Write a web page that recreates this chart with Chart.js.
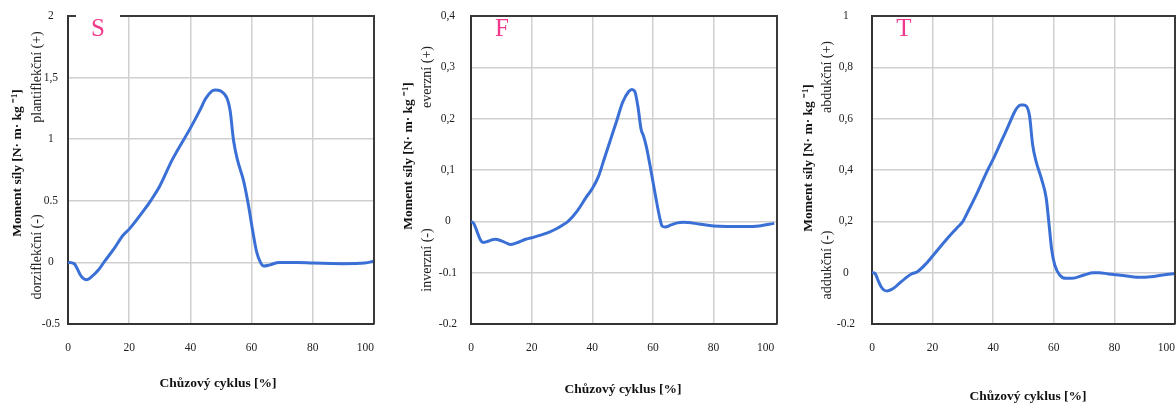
<!DOCTYPE html>
<html>
<head>
<meta charset="utf-8">
<script src="https://cdn.jsdelivr.net/npm/chart.js@4.4.1/dist/chart.umd.min.js"></script>
<style>
html,body{margin:0;padding:0;background:#fff;overflow:hidden;width:1176px;height:405px;position:relative}
canvas{position:absolute;top:0}
</style>
</head>
<body>
<canvas id="cS" width="390" height="405" style="left:0px"></canvas>
<canvas id="cF" width="400" height="405" style="left:390px"></canvas>
<canvas id="cT" width="400" height="405" style="left:780px"></canvas>
<script>
// ---- Data ----
const xTickValues = [0, 20, 40, 60, 80, 100];
const xTickLabels = ['0', '20', '40', '60', '80', '100'];

const cycleS = [0, 2, 3, 4, 5, 6, 8, 10, 12, 15, 18, 20, 25, 27, 30, 34, 40, 43, 45, 47, 48, 50, 52, 53, 54.1, 55.4, 57.4, 59, 60.4, 61.6, 62.9, 64, 66, 69, 75, 80, 90, 97, 100];
const momentS = [0, -0.01, -0.05, -0.1, -0.13, -0.14, -0.11, -0.06, 0.01, 0.11, 0.22, 0.27, 0.43, 0.5, 0.62, 0.83, 1.09, 1.23, 1.33, 1.39, 1.40, 1.39, 1.33, 1.23, 0.99, 0.83, 0.66, 0.46, 0.25, 0.09, 0.0, -0.03, -0.02, 0.0, 0.0, -0.005, -0.01, -0.005, 0.01];
const yTickValuesS = [-0.5, 0, 0.5, 1, 1.5, 2];
const yTickLabelsS = ['-0.5', '0', '0.5', '1', '1,5', '2'];

const cycleF = [0, 1, 2, 3, 4, 5, 7, 8, 10, 12, 13, 15, 18, 20, 25, 28, 30, 32, 35, 38, 40, 42, 44, 46, 48, 50, 52, 53, 54, 55, 56.1, 56.9, 57.8, 58.9, 60, 61.1, 62.2, 63, 64, 66, 68, 70, 75, 80, 90, 95, 100];
const momentF = [0, -0.005, -0.02, -0.035, -0.041, -0.04, -0.036, -0.035, -0.038, -0.043, -0.045, -0.042, -0.035, -0.032, -0.023, -0.015, -0.008, 0, 0.02, 0.047, 0.064, 0.087, 0.123, 0.159, 0.195, 0.232, 0.253, 0.257, 0.253, 0.225, 0.179, 0.166, 0.146, 0.113, 0.077, 0.041, 0.008, -0.009, -0.011, -0.007, -0.003, -0.002, -0.005, -0.009, -0.01, -0.009, -0.004];
const yTickValuesF = [-0.2, -0.1, 0, 0.1, 0.2, 0.3, 0.4];
const yTickLabelsF = ['-0.2', '-0.1', '0', '0,1', '0,2', '0,3', '0,4'];

const cycleT = [0, 1, 2, 3, 4, 5, 7, 9, 11, 13, 15, 18, 20, 25, 28, 30, 32, 35, 38, 40, 43, 45, 47, 48, 49, 50, 51, 52, 53, 54, 56, 57.5, 58.5, 59.3, 60.3, 62, 64, 66, 70, 73, 75, 78, 82, 88, 92, 96, 100];
const momentT = [0, -0.003, -0.03, -0.055, -0.068, -0.071, -0.062, -0.042, -0.022, -0.005, 0.004, 0.037, 0.065, 0.135, 0.174, 0.2, 0.246, 0.318, 0.396, 0.442, 0.52, 0.572, 0.625, 0.644, 0.653, 0.653, 0.648, 0.61, 0.5, 0.44, 0.363, 0.29, 0.18, 0.09, 0.03, -0.01, -0.022, -0.022, -0.009, 0, 0, -0.005, -0.01, -0.018, -0.016, -0.009, -0.003];
const yTickValuesT = [-0.2, 0, 0.2, 0.4, 0.6, 0.8, 1];
const yTickLabelsT = ['-0.2', '0', '0,2', '0,4', '0,6', '0,8', '1'];

const yTitle = 'Moment síly [N· m· kg ⁻¹]';
const xTitle = 'Chůzový cyklus [%]';
const subLabelsS = ['plantiflekční (+)', 'dorziflekční (-)'];
const subLabelsF = ['everzní (+)', 'inverzní (-)'];
const subLabelsT = ['abdukční (+)', 'addukční (-)'];

// ---- Styles ----
const SERIF = "'Liberation Serif', 'Times New Roman', serif";
const LINE = '#3a70d6';
const GRID = '#d0d0d0';
const AXIS = '#333333';
const PINK = '#f0388c';
const LAST_PAD = '\u00a0\u00a0\u00a0\u00a0\u00a0\u00a0';

function textPlugin(g) {
  return {
    id: 'panelTexts',
    afterDraw(chart) {
      const ctx = chart.ctx, a = chart.chartArea;
      ctx.save();
      ctx.strokeStyle = '#3a3a3a';
      ctx.lineWidth = 2;
      ctx.beginPath();
      ctx.moveTo(a.left, a.top);
      ctx.lineTo(a.right, a.top);
      ctx.lineTo(a.right, a.bottom);
      ctx.stroke();
      if (g.gap) {
        ctx.fillStyle = '#fff';
        ctx.fillRect(g.gap[0], a.top - 3, g.gap[1] - g.gap[0], 6);
      }
      ctx.fillStyle = PINK;
      ctx.font = '25px ' + SERIF;
      ctx.textAlign = 'center';
      ctx.textBaseline = 'middle';
      ctx.fillText(g.letter, g.letterX, 29);

      ctx.fillStyle = '#111';
      ctx.font = 'bold 13.5px ' + SERIF;
      ctx.fillText(xTitle, g.xTitle[0], g.xTitle[1]);

      ctx.save();
      ctx.translate(g.boldX, g.boldY);
      ctx.rotate(-Math.PI / 2);
      ctx.font = 'bold 13.5px ' + SERIF;
      ctx.fillText(yTitle, 0, 0);
      ctx.restore();

      ctx.font = '14px ' + SERIF;
      ctx.fillStyle = '#222';
      [[g.subs[0], g.subTop], [g.subs[1], g.subBottom]].forEach(([t, y]) => {
        ctx.save();
        ctx.translate(g.subX, y);
        ctx.rotate(-Math.PI / 2);
        ctx.fillText(t, 0, 0);
        ctx.restore();
      });
      ctx.restore();
    }
  };
}

function panel(id, xs, ys, yVals, yLabs, xMax, g) {
  return new Chart(document.getElementById(id), {
    type: 'line',
    data: {
      datasets: [{
        data: xs.map((x, i) => ({ x: x, y: ys[i] })),
        borderColor: LINE,
        borderWidth: 3,
        pointRadius: 0,
        fill: false,
        tension: 0.4,
        cubicInterpolationMode: 'monotone'
      }]
    },
    options: {
      responsive: false,
      animation: false,
      events: [],
      layout: { padding: { top: 16, right: g.padR, left: 0, bottom: 0 } },
      plugins: { legend: { display: false }, tooltip: { enabled: false } },
      scales: {
        x: {
          type: 'linear',
          min: 0,
          max: xMax,
          afterBuildTicks: s => { s.ticks = xTickValues.map(v => ({ value: v })); },
          afterFit: s => { s.height = 81; s.paddingLeft = 0; s.paddingRight = 0; },
          ticks: {
            padding: 17,
            color: '#222',
            font: { family: SERIF, size: 11.5 },
            maxRotation: 0,
            callback: (v, i) => xTickLabels[i] + (i === xTickLabels.length - 1 ? LAST_PAD : '')
          },
          grid: {
            drawTicks: false,
            lineWidth: 1.5,
            color: c => (c.tick && (c.tick.value === 0 || c.tick.value === 100)) ? 'rgba(0,0,0,0)' : GRID
          },
          border: { color: AXIS, width: 2 }
        },
        y: {
          type: 'linear',
          min: yVals[0],
          max: yVals[yVals.length - 1],
          afterBuildTicks: s => { s.ticks = yVals.map(v => ({ value: v })); },
          afterFit: s => { s.width = g.yW; s.paddingTop = 0; s.paddingBottom = 0; },
          ticks: {
            padding: g.yPad,
            crossAlign: 'center',
            color: '#222',
            font: { family: SERIF, size: 11.5 },
            callback: (v, i) => yLabs[i]
          },
          grid: {
            drawTicks: false,
            lineWidth: 1.5,
            color: c => (c.tick && (c.index === 0 || c.index === yVals.length - 1)) ? 'rgba(0,0,0,0)' : GRID
          },
          border: { color: AXIS, width: 2 }
        }
      }
    },
    plugins: [textPlugin(g)]
  });
}

panel('cS', cycleS, momentS, yTickValuesS, yTickLabelsS, 100, {
  yW: 68, padR: 16, yPad: 8, letter: 'S', letterX: 98, gap: [76, 120],
  xTitle: [218, 384], boldX: 18, boldY: 163, subX: 37, subTop: 77, subBottom: 257, subs: subLabelsS
});
panel('cF', cycleF, momentF, yTickValuesF, yTickLabelsF, 100.9, {
  yW: 81, padR: 13, yPad: 14, letter: 'F', letterX: 112, gap: null,
  xTitle: [233, 390], boldX: 19, boldY: 156, subX: 37, subTop: 77, subBottom: 260, subs: subLabelsF
});
panel('cT', cycleT, momentT, yTickValuesT, yTickLabelsT, 100, {
  yW: 92, padR: 5, yPad: 17, letter: 'T', letterX: 124, gap: null,
  xTitle: [248, 397], boldX: 29, boldY: 158, subX: 47, subTop: 77, subBottom: 265, subs: subLabelsT
});
</script>
</body>
</html>
